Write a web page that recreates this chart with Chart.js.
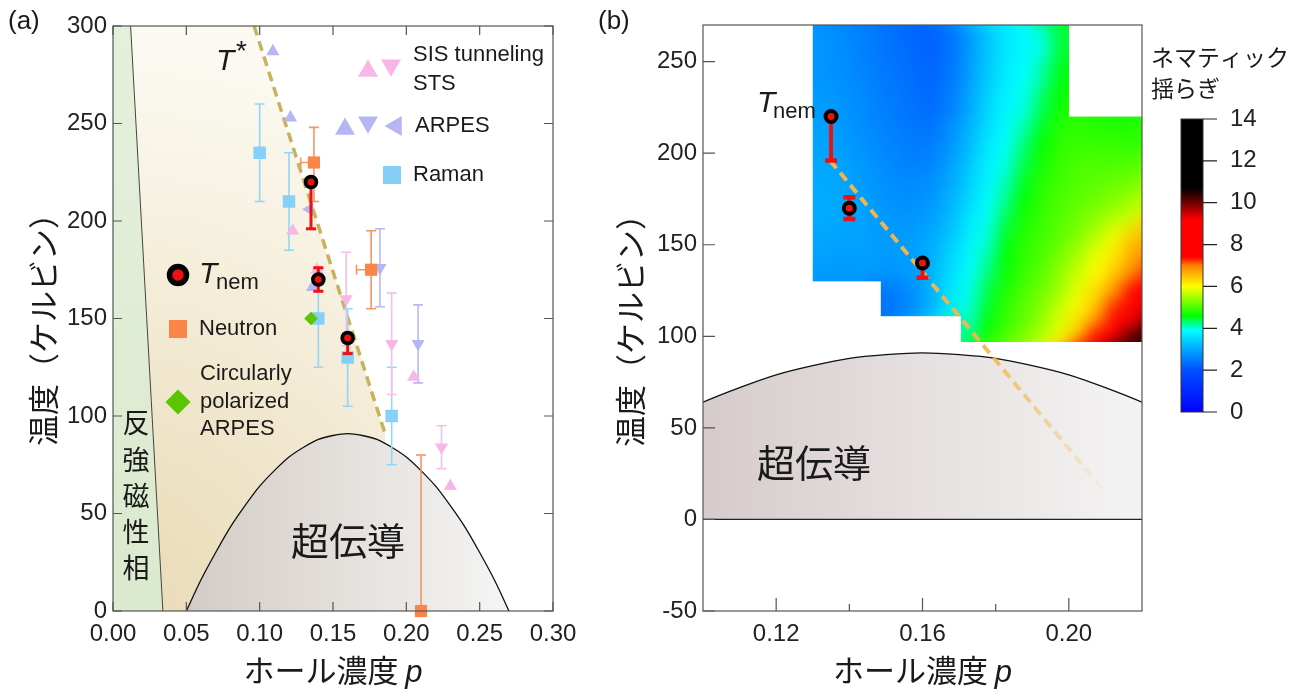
<!DOCTYPE html>
<html><head><meta charset="utf-8">
<script src="https://cdn.jsdelivr.net/npm/chart.js@4.4.1/dist/chart.umd.min.js"></script>
<style>
html,body{margin:0;padding:0;background:#fff;}
#wrap{position:relative;width:1308px;height:693px;overflow:hidden;background:#fff;}
canvas{position:absolute;left:0;top:0;}
</style></head><body>
<div id="wrap">
<canvas id="ca" width="1308" height="693"></canvas>
<canvas id="cb" width="1308" height="693"></canvas>
<canvas id="cc" width="1308" height="693"></canvas>
</div>
<script>
// ---------- tick labels ----------
const xTicksA = [0, 0.05, 0.10, 0.15, 0.20, 0.25, 0.30];
const yTicksA = [0, 50, 100, 150, 200, 250, 300];
const xTicksB = [0.12, 0.16, 0.20];
const xMinorTicksB = [0.14, 0.18];
const yTicksB = [-50, 0, 50, 100, 150, 200, 250];
const cbTicks = [0, 2, 4, 6, 8, 10, 12, 14];

// ---------- phase boundaries ----------
const domeP = [0.05,0.06,0.07,0.08,0.09,0.10,0.11,0.12,0.13,0.14,0.15,0.16,0.17,0.18,0.19,0.20,0.21,0.22,0.23,0.24,0.25,0.26,0.27];
const domeT = [0,16,30,43,54,64,72,79,84,88,90,91,90,88,84,79,72,64,54,43,30,16,0];
const afmP = [0.012, 0.034];
const afmT = [300, 0];
const tStarP = [0.0962, 0.1855];
const tStarT = [300, 91];
const tStarBP = [0.1347, 0.209];
const tStarBT = [196, 17];

// ---------- Tnem ----------
const tnemP = [0.135, 0.14, 0.16];
const tnemT = [220, 170, 140];
const tnemErrUp = [0, 6, 0];
const tnemErrDown = [24, 6, 8];

// ---------- panel (a) data ----------
const ramanP = [0.10, 0.12, 0.14, 0.16, 0.19];
const ramanT = [235, 210, 150, 130, 100];
const ramanErr = [25, 25, 25, 25, 25];

const neutronP = [0.137, 0.176, 0.21];
const neutronT = [230, 175, 0];
const neutronErrUp = [18, 20, 80];
const neutronErrDown = [20, 20, 0];
const neutronErrLeft = [0.009, 0.010, 0];

const arpesUpP = [0.109, 0.121, 0.136];
const arpesUpT = [287, 253, 166];
const arpesDownP = [0.182, 0.208];
const arpesDownT = [176, 137];
const arpesDownErr = [20, 20];
const arpesLeftP = [0.134];
const arpesLeftT = [206];

const sisUpP = [0.1225, 0.139, 0.205, 0.23];
const sisUpT = [195, 175, 120, 64];
const sisDownP = [0.159, 0.19, 0.224];
const sisDownT = [160, 137, 84];
const sisDownErr = [24, 26, 11];

const cpArpesP = [0.135];
const cpArpesT = [150];

// ---------- panel (b) nematic fluctuation map ----------
const heatPEdges = [0.130,0.1347,0.1393,0.1440,0.1486,0.1541,0.1596,0.1651,0.1705,0.1754,0.1803,0.1852,0.1902,0.1951,0.200,0.205,0.210,0.215,0.220];
const heatTEdges = [270,250,235,220,210,200,190,180,170,160,150,140,130,120,111,104,97];
const _ = null;
const heatValues = [
 [2.8,2.7,2.6,2.5,2.4,2.3,2.2,2.4,2.85,3.3,3.65,3.85,3.98,4.45,_,_,_,_],
 [2.8,2.75,2.65,2.55,2.45,2.35,2.25,2.45,2.9,3.35,3.7,3.9,4.15,4.55,_,_,_,_],
 [2.85,2.8,2.7,2.6,2.5,2.4,2.3,2.55,3.0,3.45,3.8,3.95,4.35,4.65,_,_,_,_],
 [2.9,2.85,2.75,2.65,2.55,2.45,2.4,2.7,3.1,3.55,3.85,4.1,4.5,4.8,4.85,4.8,4.75,4.75],
 [2.95,2.9,2.8,2.7,2.6,2.5,2.5,2.8,3.2,3.65,3.9,4.25,4.6,4.85,4.9,4.9,4.9,4.85],
 [3.0,2.95,2.85,2.75,2.65,2.55,2.6,2.9,3.3,3.75,3.95,4.4,4.7,4.9,5.0,5.0,5.0,5.0],
 [3.0,3.0,2.9,2.8,2.7,2.65,2.7,3.0,3.4,3.8,4.05,4.5,4.8,4.95,5.05,5.1,5.15,5.2],
 [3.05,3.0,2.95,2.85,2.75,2.7,2.8,3.1,3.5,3.88,4.2,4.6,4.85,5.0,5.1,5.2,5.3,5.45],
 [3.05,3.0,2.95,2.9,2.8,2.8,2.9,3.2,3.65,3.92,4.35,4.7,4.9,5.05,5.2,5.35,5.55,5.75],
 [3.0,2.95,2.95,2.9,2.85,2.85,3.0,3.3,3.75,3.98,4.5,4.8,4.95,5.1,5.3,5.6,5.9,6.4],
 [2.95,2.9,2.9,2.9,2.85,2.9,3.05,3.45,3.85,4.1,4.6,4.85,5.0,5.25,5.5,5.85,6.15,6.7],
 [2.85,2.8,2.85,2.85,2.8,2.85,3.1,3.55,3.9,4.25,4.65,4.9,5.1,5.4,5.7,6.0,6.4,6.9],
 [_,_,_,_,2.5,2.7,3.1,3.65,3.95,4.4,4.75,5.0,5.2,5.5,5.85,6.25,6.8,7.5],
 [_,_,_,_,2.4,2.65,3.05,3.7,4.0,4.5,4.85,5.1,5.35,5.7,6.05,6.5,7.3,8.3],
 [_,_,_,_,_,_,_,_,4.1,4.6,4.9,5.15,5.45,5.8,6.25,7.0,7.9,9.2],
 [_,_,_,_,_,_,_,_,4.2,4.7,5.0,5.25,5.55,5.9,6.5,7.4,8.6,10.3]
];
const cmapVals = [0, 2, 3, 3.9, 4.6, 6, 7, 7.4, 9.2, 10, 10.7, 14];
const cmapColors = ['#0000ff','#0050ff','#00a8ff','#00ffff','#00ff00','#ffff00','#ff8000','#ff0000','#ff0000','#700000','#000000','#000000'];

// ---------- helpers ----------
const SANS = '"Liberation Sans", Arial, Helvetica, sans-serif';
const CJK = '"Noto Sans CJK JP", "Noto Sans CJK SC", sans-serif';
const TXT = '#1a1a1a';
const pts = (P, T) => P.map((p, i) => ({x: p, y: T[i]}));
function hex2rgb(h){ return [parseInt(h.substr(1,2),16), parseInt(h.substr(3,2),16), parseInt(h.substr(5,2),16)]; }
function cmap(v){
  const n = cmapVals.length;
  v = Math.max(cmapVals[0], Math.min(cmapVals[n-1], v));
  for (let i = 0; i < n-1; i++){
    if (v <= cmapVals[i+1]){
      const f = (v - cmapVals[i]) / (cmapVals[i+1] - cmapVals[i]);
      const a = hex2rgb(cmapColors[i]), b = hex2rgb(cmapColors[i+1]);
      return 'rgb(' + a.map((c, k) => Math.round(c + (b[k]-c)*f)).join(',') + ')';
    }
  }
  return cmapColors[n-1];
}
function drawVErr(chart, P, T, up, down, color, lw, half, capW){
  const {ctx, scales:{x, y}} = chart;
  ctx.save(); ctx.strokeStyle = color; ctx.lineWidth = lw;
  for (let i = 0; i < P.length; i++){
    const X = x.getPixelForValue(P[i]);
    const Yt = y.getPixelForValue(T[i] + up[i]);
    const Yb = y.getPixelForValue(T[i] - down[i]);
    ctx.beginPath(); ctx.moveTo(X, Yt); ctx.lineTo(X, Yb); ctx.stroke();
    ctx.lineWidth = capW || lw;
    ctx.beginPath();
    if (up[i] > 0){ ctx.moveTo(X-half, Yt); ctx.lineTo(X+half, Yt); }
    if (down[i] > 0){ ctx.moveTo(X-half, Yb); ctx.lineTo(X+half, Yb); }
    ctx.stroke();
    ctx.lineWidth = lw;
  }
  ctx.restore();
}
function drawHErrLeft(chart, P, T, left, color, lw, half){
  const {ctx, scales:{x, y}} = chart;
  ctx.save(); ctx.strokeStyle = color; ctx.lineWidth = lw; ctx.beginPath();
  for (let i = 0; i < P.length; i++){
    if (!(left[i] > 0)) continue;
    const X = x.getPixelForValue(P[i]), XL = x.getPixelForValue(P[i] - left[i]);
    const Y = y.getPixelForValue(T[i]);
    ctx.moveTo(X, Y); ctx.lineTo(XL, Y);
    ctx.moveTo(XL, Y - half); ctx.lineTo(XL, Y + half);
  }
  ctx.stroke(); ctx.restore();
}
function tri(ctx, cx, cy, r, rot, color){
  ctx.beginPath();
  for (let k = 0; k < 3; k++){
    const a = rot + k * 2 * Math.PI / 3;
    const X = cx + Math.sin(a) * r, Y = cy - Math.cos(a) * r;
    k ? ctx.lineTo(X, Y) : ctx.moveTo(X, Y);
  }
  ctx.closePath(); ctx.fillStyle = color; ctx.fill();
}
function text(ctx, s, x, y, font, align, base){
  ctx.font = font; ctx.fillStyle = TXT; ctx.textAlign = align || 'left'; ctx.textBaseline = base || 'middle';
  ctx.fillText(s, x, y);
}
function yTitle(ctx, cx, cy){
  ctx.save(); ctx.translate(cx, cy); ctx.rotate(-Math.PI/2);
  text(ctx, '温度（ケルビン）', 0, 0, '31px ' + CJK, 'center', 'middle');
  ctx.restore();
}
function xTitle(ctx, cx, base){
  const f1 = '31px ' + CJK, f2 = 'italic 31px ' + SANS;
  ctx.font = f1; const w1 = ctx.measureText('ホール濃度 ').width;
  ctx.font = f2; const w2 = ctx.measureText('p').width;
  const x0 = cx - (w1 + w2) / 2;
  text(ctx, 'ホール濃度 ', x0, base, f1, 'left', 'alphabetic');
  text(ctx, 'p', x0 + w1, base, f2, 'left', 'alphabetic');
}
const COL = {raman:'#84d0f6', ramanErr:'#94d6f6', neutron:'#f98548', neutronErr:'#f89462',
  arpes:'#b6b6f4', arpesErr:'#b8b8f2', sis:'#f8b6e6', sisErr:'#f8bee8', cp:'#5cc400', red:'#ee1111'};
const markerBase = {showLine:false, pointBorderWidth:0, clip:false};

// ---------- panel (a) plugin ----------
const pluginA = {
  id: 'panelA',
  beforeDatasetsDraw(chart){
    const {ctx, chartArea:a, scales:{x, y}} = chart;
    ctx.save();
    ctx.beginPath(); ctx.rect(a.left, a.top, a.right-a.left, a.bottom-a.top); ctx.clip();
    // AFM region
    const g1 = ctx.createLinearGradient(0, a.top, 0, a.bottom);
    g1.addColorStop(0, '#e5f0db'); g1.addColorStop(1, '#dbe9ce');
    ctx.fillStyle = g1;
    ctx.beginPath();
    ctx.moveTo(x.getPixelForValue(0), y.getPixelForValue(0));
    ctx.lineTo(x.getPixelForValue(0), y.getPixelForValue(300));
    ctx.lineTo(x.getPixelForValue(afmP[0]), y.getPixelForValue(afmT[0]));
    ctx.lineTo(x.getPixelForValue(afmP[1]), y.getPixelForValue(afmT[1]));
    ctx.closePath(); ctx.fill();
    // pseudogap region
    const g2 = ctx.createRadialGradient(a.left, a.bottom, 0, a.left, a.bottom, 560);
    g2.addColorStop(0, '#e9dab5'); g2.addColorStop(0.4, '#f0e6cc');
    g2.addColorStop(0.75, '#f7f2e2'); g2.addColorStop(1, '#fbf9f1');
    ctx.fillStyle = g2;
    ctx.beginPath();
    ctx.moveTo(x.getPixelForValue(afmP[0]), y.getPixelForValue(afmT[0]));
    ctx.lineTo(x.getPixelForValue(tStarP[0]), y.getPixelForValue(tStarT[0]));
    ctx.lineTo(x.getPixelForValue(tStarP[1]), y.getPixelForValue(tStarT[1]));
    ctx.lineTo(x.getPixelForValue(tStarP[1]), y.getPixelForValue(0));
    ctx.lineTo(x.getPixelForValue(afmP[1]), y.getPixelForValue(afmT[1]));
    ctx.closePath(); ctx.fill();
    // AFM boundary line
    ctx.strokeStyle = '#444'; ctx.lineWidth = 1;
    ctx.beginPath();
    ctx.moveTo(x.getPixelForValue(afmP[0]), y.getPixelForValue(afmT[0]));
    ctx.lineTo(x.getPixelForValue(afmP[1]), y.getPixelForValue(afmT[1]));
    ctx.stroke();
    ctx.restore();
  },
  afterDatasetDraw(chart, args){
    const ds = chart.data.datasets[args.index];
    if (ds.label === 'Tstar'){
      drawVErr(chart, ramanP, ramanT, ramanErr, ramanErr, COL.ramanErr, 1.6, 5);
      drawVErr(chart, neutronP, neutronT, neutronErrUp, neutronErrDown, COL.neutronErr, 1.6, 5);
      drawHErrLeft(chart, neutronP, neutronT, neutronErrLeft, COL.neutronErr, 1.6, 5);
      drawVErr(chart, arpesDownP, arpesDownT, arpesDownErr, arpesDownErr, COL.arpesErr, 1.6, 5);
      drawVErr(chart, sisDownP, sisDownT, sisDownErr, sisDownErr, COL.sisErr, 1.6, 5);
    }
  },
  beforeDatasetDraw(chart, args){
    const ds = chart.data.datasets[args.index];
    if (ds.label === 'Tnem'){
      drawVErr(chart, tnemP, tnemT, tnemErrUp, tnemErrDown, COL.red, 3, 5, 3);
    }
  },
  afterDraw(chart){
    const {ctx, chartArea:a, scales:{x, y}} = chart;
    ctx.save();
    ctx.strokeStyle = '#555'; ctx.lineWidth = 1.2;
    ctx.strokeRect(a.left, a.top, a.right-a.left, a.bottom-a.top);
    ctx.beginPath();
    xTicksA.forEach(v => { const X = x.getPixelForValue(v);
      ctx.moveTo(X, a.bottom); ctx.lineTo(X, a.bottom-9); ctx.moveTo(X, a.top); ctx.lineTo(X, a.top+9); });
    yTicksA.forEach(v => { const Y = y.getPixelForValue(v);
      ctx.moveTo(a.left, Y); ctx.lineTo(a.left+9, Y); ctx.moveTo(a.right, Y); ctx.lineTo(a.right-9, Y); });
    ctx.stroke();
    // panel label and titles
    text(ctx, '(a)', 8, 22, '26px ' + SANS);
    yTitle(ctx, 43, 322);
    xTitle(ctx, (a.left + a.right) / 2, 682);
    // region labels
    const afmChars = ['反','強','磁','性','相'];
    const afmY = [423, 460, 496, 532, 568];
    afmChars.forEach((c, i) => text(ctx, c, 136, afmY[i], '27px ' + CJK, 'center', 'middle'));
    text(ctx, '超伝導', 348, 541, '38px ' + CJK, 'center', 'middle');
    // T*
    text(ctx, 'T', 216, 70, 'italic 30px ' + SANS, 'left', 'alphabetic');
    text(ctx, '*', 236, 60, '28px ' + SANS, 'left', 'alphabetic');
    // legend
    const r = 11.5;
    tri(ctx, 368, 68 + r/4, r, 0, COL.sis);
    tri(ctx, 391, 68 - r/4, r, Math.PI, COL.sis);
    text(ctx, 'SIS tunneling', 413, 55, '22px ' + SANS);
    text(ctx, 'STS', 413, 84, '22px ' + SANS);
    tri(ctx, 345, 126 + r/4, r, 0, COL.arpes);
    tri(ctx, 368, 125 - r/4, r, Math.PI, COL.arpes);
    tri(ctx, 396, 126, r, -Math.PI/2, COL.arpes);
    text(ctx, 'ARPES', 415, 126, '22px ' + SANS);
    ctx.fillStyle = COL.raman; ctx.fillRect(383, 166, 18, 18);
    text(ctx, 'Raman', 413, 175, '22px ' + SANS);
    ctx.beginPath(); ctx.arc(178, 275, 8.5, 0, Math.PI*2); ctx.fillStyle = COL.red; ctx.fill();
    ctx.lineWidth = 5.5; ctx.strokeStyle = '#000'; ctx.stroke();
    text(ctx, 'T', 199, 283, 'italic 30px ' + SANS, 'left', 'alphabetic');
    text(ctx, 'nem', 216, 289, '22px ' + SANS, 'left', 'alphabetic');
    ctx.fillStyle = COL.neutron; ctx.fillRect(169, 320, 18, 18);
    text(ctx, 'Neutron', 199, 329, '22px ' + SANS);
    ctx.beginPath(); ctx.moveTo(178, 389.5); ctx.lineTo(190.5, 402); ctx.lineTo(178, 414.5); ctx.lineTo(165.5, 402); ctx.closePath();
    ctx.fillStyle = COL.cp; ctx.fill();
    text(ctx, 'Circularly', 200, 374, '22px ' + SANS);
    text(ctx, 'polarized', 200, 402, '22px ' + SANS);
    text(ctx, 'ARPES', 200, 429, '22px ' + SANS);
    ctx.restore();
  }
};

const tickFont = {family: SANS, size: 24};
function axisCommon(extra){
  return Object.assign({type:'linear', grid:{display:false, drawTicks:false}, border:{display:false}}, extra);
}

const chartA = new Chart(document.getElementById('ca'), {
  type: 'line',
  data: { datasets: [
    Object.assign({label:'Tnem', data: pts(tnemP, tnemT), pointStyle:'circle', pointRadius:5.4, pointBackgroundColor:COL.red, pointBorderColor:'#000', order:0}, markerBase, {pointBorderWidth:3.8}),
    Object.assign({label:'CP-ARPES', data: pts(cpArpesP, cpArpesT), pointStyle:'rectRot', pointRadius:6.8, pointBackgroundColor:COL.cp, order:1}, markerBase),
    Object.assign({label:'Neutron', data: pts(neutronP, neutronT), pointStyle:'rect', pointRadius:8.6, pointBackgroundColor:COL.neutron, order:2}, markerBase),
    Object.assign({label:'Raman', data: pts(ramanP, ramanT), pointStyle:'rect', pointRadius:8.8, pointBackgroundColor:COL.raman, order:3}, markerBase),
    Object.assign({label:'ARPES up', data: pts(arpesUpP, arpesUpT), pointStyle:'triangle', pointRadius:7.6, pointBackgroundColor:COL.arpes, order:4}, markerBase),
    Object.assign({label:'ARPES down', data: pts(arpesDownP, arpesDownT), pointStyle:'triangle', pointRotation:180, pointRadius:7.6, pointBackgroundColor:COL.arpes, order:4}, markerBase),
    Object.assign({label:'ARPES left', data: pts(arpesLeftP, arpesLeftT), pointStyle:'triangle', pointRotation:-90, pointRadius:7.6, pointBackgroundColor:COL.arpes, order:4}, markerBase),
    Object.assign({label:'SIS up', data: pts(sisUpP, sisUpT), pointStyle:'triangle', pointRadius:7.6, pointBackgroundColor:COL.sis, order:5}, markerBase),
    Object.assign({label:'SIS down', data: pts(sisDownP, sisDownT), pointStyle:'triangle', pointRotation:180, pointRadius:7.6, pointBackgroundColor:COL.sis, order:5}, markerBase),
    {label:'Tstar', data: pts(tStarP, tStarT), showLine:true, pointRadius:0, borderColor:'#c9b25e', borderWidth:3.5, borderDash:[10,6], fill:false, order:8, clip:0},
    {label:'dome', data: pts(domeP, domeT), showLine:true, pointRadius:0, borderColor:'#111', borderWidth:1.3,
      cubicInterpolationMode:'monotone', fill:'origin', order:9, clip:0,
      backgroundColor: (c) => { const ch = c.chart; if (!ch.chartArea) return '#e0dcd8';
        const g = ch.ctx.createLinearGradient(ch.scales.x.getPixelForValue(domeP[0]), 0, ch.scales.x.getPixelForValue(domeP[domeP.length-1]), 0);
        g.addColorStop(0, '#d3ccc6'); g.addColorStop(0.5, '#e4e0dc'); g.addColorStop(1, '#f5f5f5'); return g; }}
  ]},
  options: {
    responsive:false, animation:false, events:[],
    layout:{padding:{left:0, right:755, top:26, bottom:0}},
    plugins:{legend:{display:false}, tooltip:{enabled:false}},
    scales:{
      x: axisCommon({min:0, max:0.30,
        afterBuildTicks: s => { s.ticks = xTicksA.map(v => ({value:v})); },
        afterFit: s => { s.height = 82; },
        ticks:{autoSkip:false, maxRotation:0, padding:9, color:'#222', font:tickFont, callback: v => Number(v).toFixed(2)}}),
      y: axisCommon({min:0, max:300,
        afterBuildTicks: s => { s.ticks = yTicksA.map(v => ({value:v})); },
        afterFit: s => { s.width = 113; },
        ticks:{autoSkip:false, padding:6, color:'#222', font:tickFont, callback: v => String(v)}})
    }
  },
  plugins:[pluginA]
});

// ---------- panel (b) plugin ----------
const pluginB = {
  id:'panelB',
  beforeDatasetsDraw(chart){
    const {ctx, chartArea:a, scales:{x, y}} = chart;
    const cells = [];
    for (let r = 0; r < heatValues.length; r++){
      for (let c = 0; c < heatValues[r].length; c++){
        const v = heatValues[r][c]; if (v === null) continue;
        const x0 = x.getPixelForValue(heatPEdges[c]), x1 = x.getPixelForValue(heatPEdges[c+1]);
        const y0 = y.getPixelForValue(heatTEdges[r]), y1 = y.getPixelForValue(heatTEdges[r+1]);
        cells.push({x0, y0, w:x1-x0, h:y1-y0, col:cmap(v)});
      }
    }
    ctx.save();
    ctx.beginPath(); ctx.rect(a.left, a.top, a.right-a.left, a.bottom-a.top); ctx.clip();
    cells.forEach(c => { ctx.fillStyle = c.col; ctx.fillRect(c.x0, c.y0, c.w, c.h); });
    const off = document.createElement('canvas'); off.width = chart.width; off.height = chart.height;
    const o = off.getContext('2d'); const pad = 16;
    cells.forEach(c => { o.fillStyle = c.col; o.fillRect(c.x0-pad, c.y0-pad, c.w+2*pad, c.h+2*pad); });
    cells.forEach(c => { o.fillStyle = c.col; o.fillRect(c.x0, c.y0, c.w, c.h); });
    ctx.beginPath(); cells.forEach(c => ctx.rect(Math.round(c.x0), Math.round(c.y0), Math.round(c.x0 + c.w) - Math.round(c.x0), Math.round(c.y0 + c.h) - Math.round(c.y0))); ctx.clip();
    ctx.filter = 'blur(8px)'; ctx.drawImage(off, 0, 0); ctx.filter = 'none';
    ctx.restore();
  },
  beforeDatasetDraw(chart, args){
    const ds = chart.data.datasets[args.index];
    if (ds.label === 'Tnem'){
      drawVErr(chart, tnemP, tnemT, tnemErrUp, tnemErrDown, COL.red, 4, 6, 4.5);
    }
  },
  afterDraw(chart){
    const {ctx, chartArea:a, scales:{x, y}} = chart;
    ctx.save();
    // baseline at 0 K
    ctx.strokeStyle = '#222'; ctx.lineWidth = 1.3;
    ctx.beginPath(); const Y0 = y.getPixelForValue(0); ctx.moveTo(a.left, Y0); ctx.lineTo(a.right, Y0); ctx.stroke();
    // frame
    ctx.strokeStyle = '#555'; ctx.lineWidth = 1.2;
    ctx.strokeRect(a.left, a.top, a.right-a.left, a.bottom-a.top);
    ctx.beginPath();
    yTicksB.forEach(v => { const Y = y.getPixelForValue(v); ctx.moveTo(a.left, Y); ctx.lineTo(a.left+12, Y); });
    xTicksB.forEach(v => { const X = x.getPixelForValue(v); ctx.moveTo(X, a.bottom); ctx.lineTo(X, a.bottom-13); });
    xMinorTicksB.forEach(v => { const X = x.getPixelForValue(v); ctx.moveTo(X, a.bottom); ctx.lineTo(X, a.bottom-7); });
    ctx.stroke();
    text(ctx, '(b)', 598, 22, '26px ' + SANS);
    yTitle(ctx, 630, 323);
    xTitle(ctx, (a.left + a.right) / 2, 682);
    text(ctx, 'T', 757, 112, 'italic 30px ' + SANS, 'left', 'alphabetic');
    text(ctx, 'nem', 773, 118, '22px ' + SANS, 'left', 'alphabetic');
    text(ctx, '超伝導', 814, 463, '38px ' + CJK, 'center', 'middle');
    text(ctx, 'ネマティック', 1151, 57, '23px ' + CJK, 'left', 'middle');
    text(ctx, '揺らぎ', 1151, 88, '23px ' + CJK, 'left', 'middle');
    ctx.restore();
  }
};

const chartB = new Chart(document.getElementById('cb'), {
  type:'line',
  data:{ datasets:[
    Object.assign({label:'Tnem', data: pts(tnemP, tnemT), pointStyle:'circle', pointRadius:5.5, pointBackgroundColor:COL.red, pointBorderColor:'#000', order:0}, markerBase, {pointBorderWidth:4}),
    {label:'TstarB', data: pts(tStarBP, tStarBT), showLine:true, pointRadius:0, borderWidth:4, borderDash:[10,6], fill:false, order:8, clip:0,
      borderColor: (c) => { const ch = c.chart; if (!ch.chartArea) return '#f5b44b';
        const g = ch.ctx.createLinearGradient(ch.scales.x.getPixelForValue(tStarBP[0]), 0, ch.scales.x.getPixelForValue(tStarBP[1]), 0);
        g.addColorStop(0, 'rgba(245,180,75,1)'); g.addColorStop(0.55, 'rgba(245,180,75,0.95)');
        g.addColorStop(0.75, 'rgba(245,180,75,0.55)'); g.addColorStop(1, 'rgba(245,180,75,0.08)'); return g; }},
    {label:'dome', data: pts(domeP, domeT), showLine:true, pointRadius:0, borderColor:'#111', borderWidth:1.3,
      cubicInterpolationMode:'monotone', fill:'origin', order:9, clip:0,
      backgroundColor: (c) => { const ch = c.chart; if (!ch.chartArea) return '#e0d8d8';
        const g = ch.ctx.createLinearGradient(ch.chartArea.left, 0, ch.chartArea.right, 0);
        g.addColorStop(0, '#d6cbcb'); g.addColorStop(0.5, '#e6e0e0'); g.addColorStop(1, '#f4f3f3'); return g; }}
  ]},
  options:{
    responsive:false, animation:false, events:[],
    layout:{padding:{left:0, right:166, top:25, bottom:0}},
    plugins:{legend:{display:false}, tooltip:{enabled:false}},
    scales:{
      x: axisCommon({min:0.10, max:0.22,
        afterBuildTicks: s => { s.ticks = xTicksB.map(v => ({value:v})); },
        afterFit: s => { s.height = 82; },
        ticks:{autoSkip:false, maxRotation:0, padding:9, color:'#222', font:tickFont, callback: v => Number(v).toFixed(2)}}),
      y: axisCommon({min:-50, max:270,
        afterBuildTicks: s => { s.ticks = yTicksB.map(v => ({value:v})); },
        afterFit: s => { s.width = 703; },
        ticks:{autoSkip:false, padding:6, color:'#222', font:tickFont, callback: v => String(v)}})
    }
  },
  plugins:[pluginB]
});

// ---------- colour bar ----------
const pluginC = {
  id:'colorbar',
  beforeDatasetsDraw(chart){
    const {ctx, chartArea:a, scales:{y}} = chart;
    ctx.save();
    const y0 = y.getPixelForValue(cbTicks[0]), y1 = y.getPixelForValue(cbTicks[cbTicks.length-1]);
    const g = ctx.createLinearGradient(0, y0, 0, y1);
    const vmax = cmapVals[cmapVals.length-1];
    cmapVals.forEach((v, i) => g.addColorStop(v / vmax, cmapColors[i]));
    ctx.fillStyle = g; ctx.fillRect(a.left, a.top, a.right-a.left, a.bottom-a.top);
    ctx.strokeStyle = '#333'; ctx.lineWidth = 1;
    ctx.strokeRect(a.left, a.top, a.right-a.left, a.bottom-a.top);
    ctx.beginPath();
    cbTicks.forEach(v => { const Y = y.getPixelForValue(v); ctx.moveTo(a.right, Y); ctx.lineTo(a.right+14, Y); });
    ctx.strokeStyle = '#222'; ctx.lineWidth = 1.2; ctx.stroke();
    ctx.restore();
  }
};
const chartC = new Chart(document.getElementById('cc'), {
  type:'line',
  data:{datasets:[]},
  options:{
    responsive:false, animation:false, events:[],
    layout:{padding:{left:1181, right:0, top:119, bottom:281}},
    plugins:{legend:{display:false}, tooltip:{enabled:false}},
    scales:{
      x:{type:'linear', display:false, min:0, max:1},
      y: axisCommon({position:'right', min:0, max:14,
        afterBuildTicks: s => { s.ticks = cbTicks.map(v => ({value:v})); },
        afterFit: s => { s.width = 105; },
        ticks:{autoSkip:false, padding:27, color:'#222', font:tickFont, callback: v => String(v)}})
    }
  },
  plugins:[pluginC]
});
</script>
</body></html>
